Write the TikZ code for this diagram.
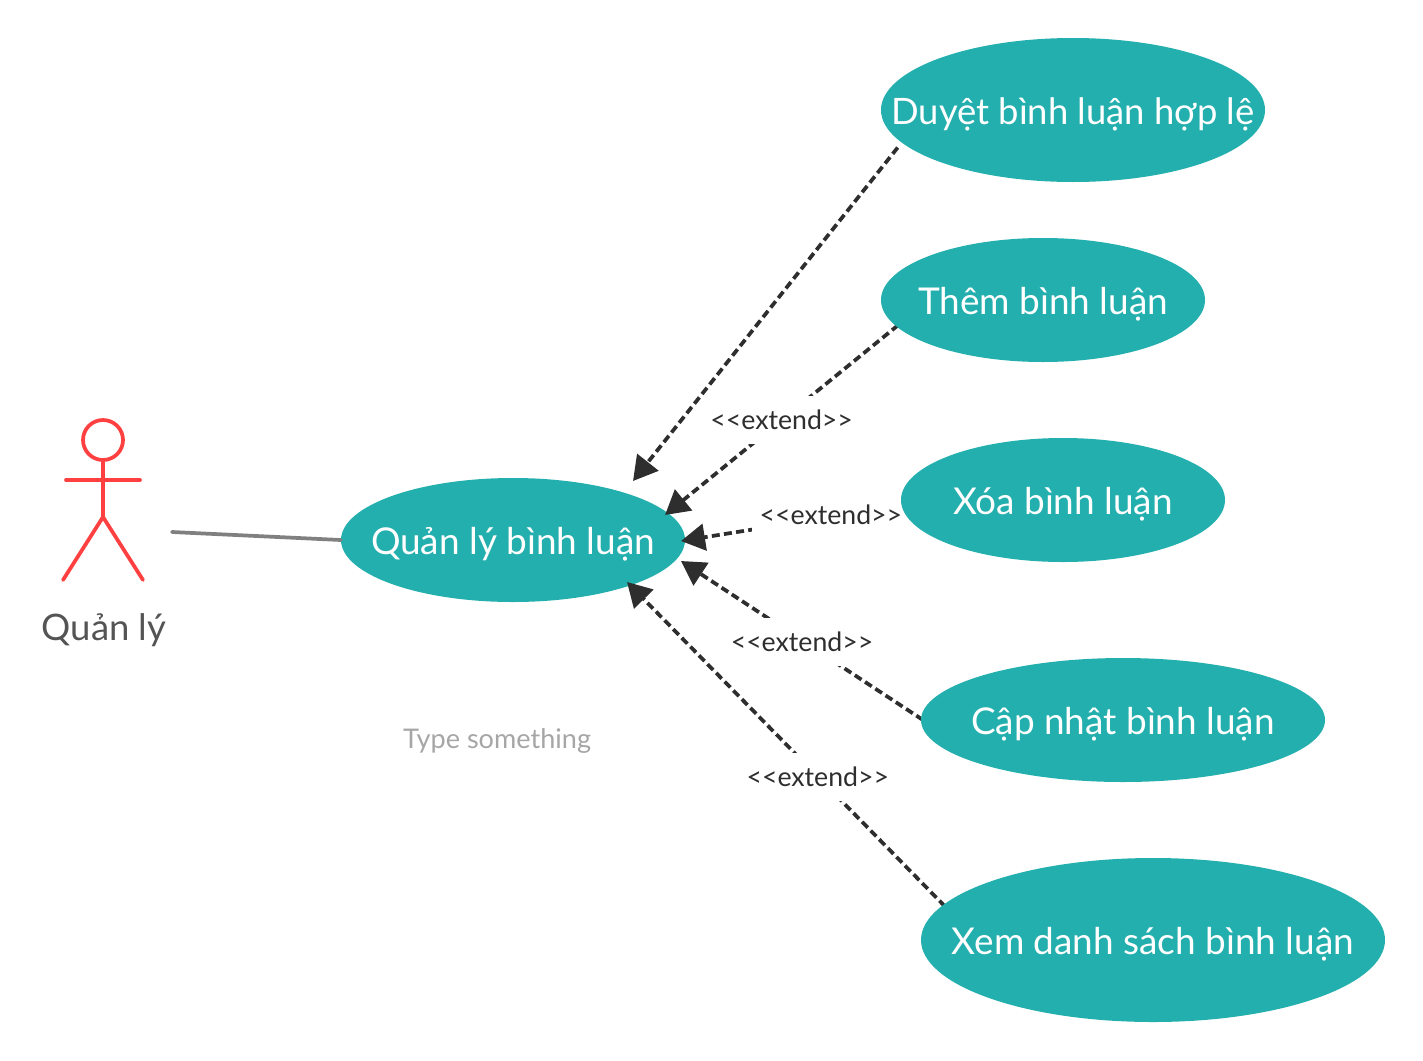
\documentclass[tikz,border=0pt]{standalone}
\usepackage{fontspec}
\setmainfont{Lato}
\usetikzlibrary{shapes.geometric,arrows.meta,backgrounds}
\definecolor{usecase}{HTML}{23AFAE}
\definecolor{actorred}{HTML}{FF4040}
\newcommand{\uctext}[1]{\makebox[0pt]{\raisebox{-11pt}[0pt][0pt]{#1}}}
\tikzset{
 usecase/.style={ellipse,fill=usecase,text=white,inner sep=0pt,font=\fontsize{27.7}{32}\selectfont},
 extendline/.style={-{Triangle[length=18pt,width=20pt]},line width=2.8pt,dash pattern=on 6pt off 3.2pt,draw=black!82},
 extendlabel/.style={fill=white,inner sep=0pt,minimum width=118pt,minimum height=36pt,text=black!82,font=\fontsize{20}{24}\selectfont},
 actorline/.style={actorred,line width=2.8pt,line cap=round},
}
\begin{document}
\begin{tikzpicture}[x=0.75pt,y=-0.75pt]
\useasboundingbox (0,0) rectangle (1423,1060);
% use cases
\node[usecase,minimum width=288pt,minimum height=108pt,font=\fontsize{27.3}{32}\selectfont] (duyet) at (1073,110) {\uctext{Duyệt bình luận hợp lệ}};
\node[usecase,minimum width=243pt,minimum height=93pt] (them) at (1043,300) {\uctext{Thêm bình luận}};
\node[usecase,minimum width=243pt,minimum height=93pt] (xoa) at (1063,500) {\uctext{Xóa bình luận}};
\node[usecase,minimum width=303pt,minimum height=93pt] (capnhat) at (1123,720) {\uctext{Cập nhật bình luận}};
\node[usecase,minimum width=348pt,minimum height=123pt] (xem) at (1153,940) {\uctext{Xem danh sách bình luận}};
\coordinate (tipduyet) at (633,481);
\coordinate (tipthem) at (665,515);
\coordinate (tipxoa) at (681,541);
\coordinate (tipcapnhat) at (681,561);
\coordinate (tipxem) at (627,582);
% connectors go under the use cases
\begin{scope}[on background layer]
\node[usecase,minimum width=258pt,minimum height=93pt] (quanly) at (513,540) {\uctext{Quản lý bình luận}};
\draw[extendline] ([xshift=-6pt,yshift=-1.5pt]duyet.192) -- (tipduyet);
\draw[extendline] ([xshift=2pt,yshift=.7pt]them.190) -- node[extendlabel] {<{}<extend>{}>} (tipthem);
\draw[extendline] (xoa.182) -- node[extendlabel,pos=.32,yshift=1.5pt] {<{}<extend>{}>} (tipxoa);
\draw[extendline] ([xshift=1.7pt]capnhat.180) -- node[extendlabel,yshift=-1pt] {<{}<extend>{}>} (tipcapnhat);
\draw[extendline] ([xshift=3pt]xem.171) -- node[extendlabel,pos=.4] {<{}<extend>{}>} (tipxem);
\end{scope}
% actor
\node[circle,draw=actorred,line width=2.8pt,minimum size=30pt,inner sep=0pt] (head) at (103,440) {};
\coordinate (hip) at (103,517);
\coordinate (handl) at (66,480);
\coordinate (handr) at (140,480);
\coordinate (footl) at (63,580);
\coordinate (footr) at (143,580);
\draw[actorline] (head) -- (hip);
\draw[actorline] (handl) -- (handr);
\draw[actorline] (footl) -- (hip) -- (footr);
\node[text=black!67,font=\fontsize{27.4}{32}\selectfont] (actorname) at (104,630) {Quản lý};
\coordinate (actorend) at (172,532);
\draw[gray,line width=2.8pt,line cap=round] (actorend) -- (quanly.west);
\node[text=black!35,font=\fontsize{20.3}{24}\selectfont] (hint) at (497,741) {Type something};
\end{tikzpicture}
\end{document}
